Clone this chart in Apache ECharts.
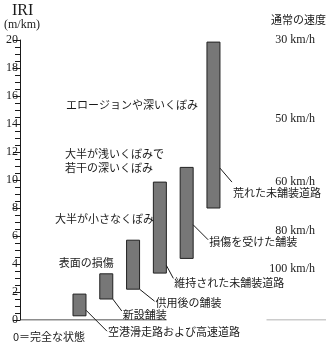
<!DOCTYPE html>
<html>
<head>
<meta charset="utf-8">
<script src="https://cdn.jsdelivr.net/npm/echarts@6/dist/echarts.min.js"></script>
<style>
  html, body { margin: 0; padding: 0; background: #fff; }
  #main { width: 326px; height: 345px; }
</style>
</head>
<body>
<div id="main"></div>
<script>
// 道路種別ごとの IRI の範囲
const roadTypes = ['空港滑走路および高速道路', '新設舗装', '供用後の舗装', '維持された未舗装道路', '損傷を受けた舗装', '荒れた未舗装道路'];
const iriLow = [0.3, 1.5, 2.2, 3.35, 4.4, 8.0];
const iriHigh = [1.85, 3.3, 5.7, 9.85, 10.9, 19.85];

// 通常の速度（右側の目盛り）
const speedLabels = ['30 km/h', '50 km/h', '60 km/h', '80 km/h', '100 km/h'];
const speedIRI = [20, 14.4, 9.9, 6.35, 3.65];

// 路面状態の説明（左側）
const roughLabels = ['エロージョンや深いくぼみ', '大半が浅いくぼみで\n若干の深いくぼみ', '大半が小さなくぼみ', '表面の損傷'];
const roughIRI = [15.35, 11.4, 7.2, 4.1];

// 引き出し線の配置（レイアウト用）
const leaders = [
  { at: 0.7, dx: 21, dy: 21, ty: 1 },
  { at: 1.5, dx: 9, dy: 12, ty: 4 },
  { at: 2.2, dx: 15, dy: 12, ty: 2 },
  { at: 3.9, dx: 7, dy: 13, ty: 4 },
  { at: 6.8, dx: 15, dy: 15, ty: 2 },
  { at: 10.85, dx: 12, dy: 14, ty: 11 }
];
const roughX = [-0.5, -0.54, -0.91, -0.77];
const speedX = 8.79;

const jp = '"Noto Sans CJK JP", sans-serif';
const serif = '"Liberation Serif", "DejaVu Serif", serif';
const ink = '#1a1a1a';

let myChart = echarts.init(document.getElementById('main'));

// 棒（範囲）と引き出し線・ラベル
function renderBar(params, api) {
  const i = api.value(0);
  const lo = api.coord([i, api.value(1)]);
  const hi = api.coord([i, api.value(2)]);
  const w = 13;
  const L = leaders[i];
  const s = api.coord([i, L.at]);
  const sx = lo[0] + w / 2;
  const ex = sx + L.dx, ey = s[1] + L.dy;
  return {
    type: 'group',
    children: [
      { type: 'rect', shape: { x: lo[0] - w / 2, y: hi[1], width: w, height: lo[1] - hi[1] },
        style: { fill: '#777', stroke: '#222', lineWidth: 1 } },
      { type: 'line', shape: { x1: sx, y1: s[1], x2: ex, y2: ey },
        style: { stroke: ink, lineWidth: 1 } },
      { type: 'text', x: ex + 1, y: ey + L.ty,
        style: { text: roadTypes[i], font: '11px ' + jp, fill: ink, textAlign: 'left', textVerticalAlign: 'middle' } }
    ]
  };
}

function renderText(align, font) {
  return function (params, api) {
    const p = api.coord([api.value(0), api.value(1)]);
    return {
      type: 'text', x: p[0], y: p[1],
      style: { text: api.value(2), font: font, fill: ink, textAlign: align, textVerticalAlign: 'middle', lineHeight: 14 }
    };
  };
}

let option = {
  animation: false,
  grid: { left: 20, right: 0, top: 40, bottom: 25 },
  xAxis: {
    type: 'value', min: -2.22, max: 9.2,
    show: false
  },
  yAxis: {
    type: 'value', min: 0, max: 20, interval: 2,
    axisLine: { show: true, onZero: false, lineStyle: { color: ink, width: 1 } },
    axisTick: { show: true, length: 7, lineStyle: { color: ink } },
    minorTick: { show: true, splitNumber: 4, length: 5, lineStyle: { color: ink } },
    axisLabel: { color: ink, fontFamily: serif, fontSize: 12, margin: 2 },
    splitLine: { show: false }
  },
  graphic: [
    { type: 'text', left: 12, top: 3, style: { text: 'IRI', font: '16px ' + serif, fill: ink } },
    { type: 'text', left: 4, top: 19, style: { text: '(m/km)', font: '12px ' + serif, fill: ink } },
    { type: 'text', left: 13, top: 331, style: { text: '0＝完全な状態', font: '11px ' + jp, fill: ink } },
    { type: 'text', left: 271, top: 14, style: { text: '通常の速度', font: '11px ' + jp, fill: ink } }
  ],
  series: [
    {
      type: 'line', symbol: 'none', silent: true,
      lineStyle: { color: ink, width: 1 },
      data: [[-2.22, 0], [3.25, 0]]
    },
    {
      type: 'line', symbol: 'none', silent: true,
      lineStyle: { color: '#999', width: 1 },
      data: [[6.98, 0], [9.2, 0]]
    },
    {
      type: 'custom', renderItem: renderBar,
      data: roadTypes.map((n, i) => [i, iriLow[i], iriHigh[i]])
    },
    {
      type: 'custom', renderItem: renderText('right', '12px ' + serif),
      data: speedLabels.map((t, i) => [speedX, speedIRI[i], t])
    },
    {
      type: 'custom', renderItem: renderText('left', '11px ' + jp),
      data: roughLabels.map((t, i) => [roughX[i], roughIRI[i], t])
    }
  ]
};

myChart.setOption(option);
</script>
</body>
</html>
